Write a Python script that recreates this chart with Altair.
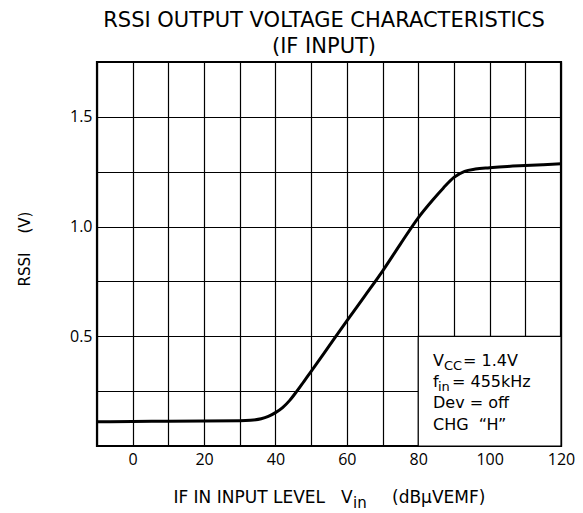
import altair as alt
import pandas as pd

# ---- data ----
vin = [-10, 0, 10, 20, 30, 33, 36, 38, 40, 42, 44, 46, 48, 50, 55, 60, 65, 70, 75,
       80, 84, 87, 90, 93, 96, 100, 105, 110, 115, 120]
rssi = [0.110, 0.112, 0.113, 0.114, 0.115, 0.117, 0.124, 0.135, 0.152, 0.175,
        0.208, 0.250, 0.295, 0.340, 0.455, 0.570, 0.683, 0.797, 0.920, 1.04, 1.12,
        1.175, 1.224, 1.252, 1.262, 1.268, 1.274, 1.278, 1.282, 1.286]
x_ticks = [-10, 0, 10, 20, 30, 40, 50, 60, 70, 80, 90, 100, 110, 120]
y_ticks = [0, 0.25, 0.5, 0.75, 1.0, 1.25, 1.5, 1.75]
box_x = [80, 120]
box_y = [0, 0.5]
title_lines = ["RSSI OUTPUT VOLTAGE CHARACTERISTICS", "(IF INPUT)"]

W, H = 464, 384
FONT = "DejaVu Sans"
NUMFONT = "Open Sans"
NB = "\u00a0"

df = pd.DataFrame({"vin": vin, "rssi": rssi})

xscale = alt.Scale(domain=[-10, 120], nice=False)
yscale = alt.Scale(domain=[0, 1.75], nice=False)

xaxis = alt.Axis(values=x_ticks, title=None, grid=True, ticks=False, domain=False,
                 labelExpr="datum.value % 20 == 0 ? datum.label : ''",
                 labelFont=NUMFONT, labelFontSize=16, labelColor="black",
                 labelPadding=5, labelFlush=False, labelOverlap=False,
                 gridColor="black", gridWidth=1.2, gridOpacity=1)
yaxis = alt.Axis(values=y_ticks, title=None, grid=True, ticks=False, domain=False,
                 labelExpr="(datum.value == 0.5 || datum.value == 1 || datum.value == 1.5) ? format(datum.value, '.1f') : ''",
                 labelFont=NUMFONT, labelFontSize=16, labelColor="black",
                 labelPadding=5, labelOverlap=False, labelFlush=False,
                 gridColor="black", gridWidth=1.2, gridOpacity=1)

line = alt.Chart(df).mark_line(color="black", strokeWidth=3, interpolate="monotone").encode(
    x=alt.X("vin:Q", scale=xscale, axis=xaxis),
    y=alt.Y("rssi:Q", scale=yscale, axis=yaxis),
)

box = alt.Chart(pd.DataFrame({"x": [box_x[0]], "x2": [box_x[1]], "y": [box_y[0]], "y2": [box_y[1]]})).mark_rect(
    fill="white", stroke="black", strokeWidth=1.2
).encode(x=alt.X("x:Q", scale=xscale, axis=xaxis), x2="x2:Q",
         y=alt.Y("y:Q", scale=yscale, axis=yaxis), y2="y2:Q")


def txt(s, x, y, size, align="left", baseline="alphabetic", angle=0, font=FONT):
    return alt.Chart(pd.DataFrame({"t": [s]})).mark_text(
        align=align, baseline=baseline, fontSize=size, font=font, color="black", angle=angle
    ).encode(x=alt.value(x), y=alt.value(y), text="t:N")


texts = [
    # annotation box
    txt("V", 336, 304, 16),
    txt("CC", 347, 308, 13),
    txt("= 1.4V", 366, 304, 16),
    txt("f", 336, 325, 16),
    txt("in", 341, 329, 13),
    txt("= 455kHz", 355, 325, 16),
    txt("Dev = off", 336, 346, 16),
    txt("CHG" + NB + NB + "\u201cH\u201d", 336, 368, 16),
    # x axis title
    txt("IF IN INPUT LEVEL", 228, 441, 17, align="right"),
    txt("V", 244, 441, 17),
    txt("in", 256, 446, 15),
    txt("(dB\u03bcVEMF)", 295, 441, 17),
    # y axis title
    txt("RSSI" + NB * 4 + "(V)", -72, 187, 15, align="center", baseline="middle", angle=270),
]

chart = alt.layer(line, box, *texts).properties(
    width=W, height=H,
    title=alt.TitleParams(text=title_lines, font=FONT, fontSize=21, fontWeight="normal",
                          color="black", anchor="middle", baseline="bottom",
                          lineHeight=26, offset=5, dx=-5, dy=29),
    autosize=alt.AutoSizeParams(type="none"),
    padding={"left": 89, "top": 54, "right": 14, "bottom": 66},
).configure(background="white").configure_view(stroke="black", strokeWidth=2.2)

chart.save("out.html", embed_options={"renderer": "svg", "actions": False})
